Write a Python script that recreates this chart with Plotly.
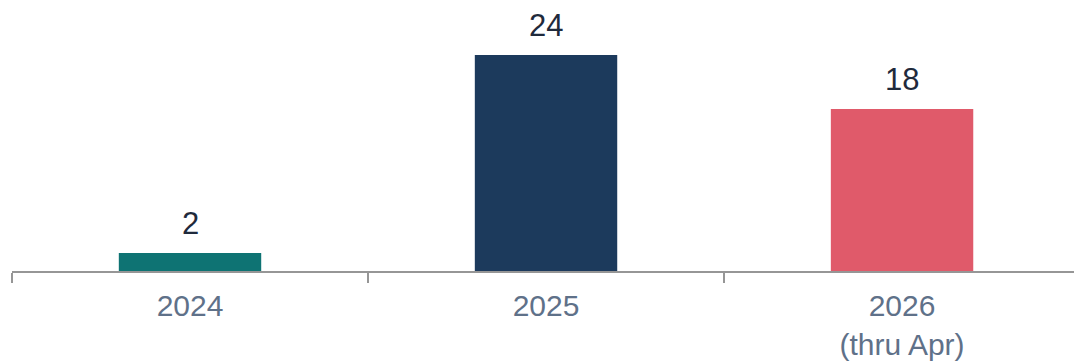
import plotly.graph_objects as go

categories = ["2024", "2025", "2026<br>(thru Apr)"]
values = [2, 24, 18]
bar_colors = ["#0e7373", "#1c3a5c", "#e05a6a"]

FONT = "Liberation Sans, Arial, sans-serif"

fig = go.Figure(
    go.Bar(
        x=categories,
        y=values,
        marker=dict(color=bar_colors, line=dict(width=0)),
        width=0.4,
        cliponaxis=False,
        hoverinfo="x+y",
    )
)

# value labels above each bar (positioned by category index)
for i, val in enumerate(values):
    fig.add_annotation(
        x=i,
        y=val,
        text=str(val),
        showarrow=False,
        yanchor="bottom",
        yshift=10,
        font=dict(family=FONT, size=31, color="#1f2a3c"),
    )

fig.update_layout(
    width=1074,
    height=364,
    margin=dict(l=12, r=0, t=0, b=93),
    paper_bgcolor="white",
    plot_bgcolor="white",
    showlegend=False,
    font=dict(family=FONT),
)

fig.update_xaxes(
    type="category",
    range=[-0.5, 2.483],
    automargin=False,
    showline=True,
    linecolor="#969696",
    linewidth=2,
    ticks="outside",
    tickson="boundaries",
    ticklen=10,
    tickwidth=2,
    tickcolor="#969696",
    ticklabelstandoff=7,
    tickfont=dict(family=FONT, size=30, color="#5f7189"),
    showgrid=False,
    zeroline=False,
)

fig.update_yaxes(
    range=[0, 30.1],
    visible=False,
    showgrid=False,
    zeroline=False,
    automargin=False,
)

fig.write_html("out.html")
